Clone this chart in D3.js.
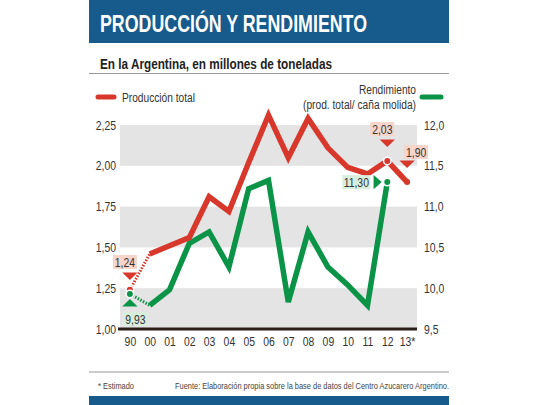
<!DOCTYPE html>
<html>
<head>
<meta charset="utf-8">
<script src="https://cdn.jsdelivr.net/npm/d3@7"></script>
<style>
  body { margin: 0; background: #fff; }
  text { font-family: "Liberation Sans", Arial, sans-serif; }
</style>
</head>
<body>
<div id="chart"></div>
<script>
// Data
var years = ["90", "00", "01", "02", "03", "04", "05", "06", "07", "08", "09", "10", "11", "12", "13*"];
var produccion = [1.24, 1.46, 1.51, 1.56, 1.81, 1.72, 2.02, 2.31, 2.05, 2.29, 2.11, 1.99, 1.95, 2.03, 1.90];
var rendimiento = [9.93, 9.79, 9.98, 10.55, 10.69, 10.26, 11.22, 11.32, 9.83, 10.69, 10.26, 10.04, 9.79, 11.30, null];
var leftTicks = [1.00, 1.25, 1.50, 1.75, 2.00, 2.25];
var rightTicks = [9.5, 10.0, 10.5, 11.0, 11.5, 12.0];

var svgWidth = 540;
var svgHeight = 405;

var red = "#d8372b";
var green = "#0b9447";
var blue = "#165b8b";

var svg = d3.select("#chart")
  .append("svg")
  .attr("width", svgWidth)
  .attr("height", svgHeight);

svg.append("rect")
  .attr("width", svgWidth)
  .attr("height", svgHeight)
  .attr("fill", "#fff");

// squeeze text horizontally to mimic the condensed newspaper font
function condense(sel, factor) {
  sel.each(function() {
    var w = this.getComputedTextLength();
    d3.select(this)
      .attr("textLength", w * factor)
      .attr("lengthAdjust", "spacingAndGlyphs");
  });
}

function fitText(sel, width) {
  sel.attr("textLength", width).attr("lengthAdjust", "spacingAndGlyphs");
}

// Header
svg.append("rect")
  .attr("x", 89).attr("y", 0)
  .attr("width", 360).attr("height", 43)
  .attr("fill", blue);

svg.append("text")
  .attr("x", 100).attr("y", 32)
  .attr("fill", "#fff")
  .attr("font-size", 24)
  .attr("font-weight", "bold")
  .text("PRODUCCIÓN Y RENDIMIENTO")
  .call(fitText, 267);

svg.append("text")
  .attr("x", 100).attr("y", 69)
  .attr("fill", "#222")
  .attr("font-size", 15)
  .attr("font-weight", "bold")
  .text("En la Argentina, en millones de toneladas")
  .call(fitText, 232);

svg.append("line")
  .attr("x1", 89).attr("x2", 449)
  .attr("y1", 73.5).attr("y2", 73.5)
  .attr("stroke", "#999").attr("stroke-width", 1);

// Legend
svg.append("line")
  .attr("x1", 98).attr("x2", 114)
  .attr("y1", 97).attr("y2", 97)
  .attr("stroke", red).attr("stroke-width", 5)
  .attr("stroke-linecap", "round");

svg.append("text")
  .attr("x", 122).attr("y", 101.5)
  .attr("fill", "#333").attr("font-size", 12.5)
  .text("Producción total")
  .call(fitText, 73);

svg.append("text")
  .attr("x", 416).attr("y", 94)
  .attr("text-anchor", "end")
  .attr("fill", "#333").attr("font-size", 12.5)
  .text("Rendimiento")
  .call(fitText, 57);

svg.append("text")
  .attr("x", 416).attr("y", 109)
  .attr("text-anchor", "end")
  .attr("fill", "#333").attr("font-size", 12.5)
  .text("(prod. total/ caña molida)")
  .call(fitText, 113);

svg.append("line")
  .attr("x1", 422).attr("x2", 441)
  .attr("y1", 97).attr("y2", 97)
  .attr("stroke", green).attr("stroke-width", 5)
  .attr("stroke-linecap", "round");

// Scales
var plotLeft = 120, plotRight = 417, plotTop = 125, plotBottom = 329;

var x = d3.scalePoint()
  .domain(years)
  .range([plotLeft, plotRight])
  .padding(0.5);

var yLeft = d3.scaleLinear()
  .domain([1.0, 2.25])
  .range([plotBottom, plotTop]);

var yRight = d3.scaleLinear()
  .domain([9.5, 12.0])
  .range([plotBottom, plotTop]);

// Gray bands
var bands = [[1.0, 1.25], [1.5, 1.75], [2.0, 2.25]];
svg.append("g").selectAll("rect")
  .data(bands)
  .enter()
  .append("rect")
  .attr("x", plotLeft)
  .attr("width", plotRight - plotLeft)
  .attr("y", d => yLeft(d[1]))
  .attr("height", d => yLeft(d[0]) - yLeft(d[1]))
  .attr("fill", "#e4e4e5");

// Axes
var fmt2 = d3.format(".2f");
var fmt1 = d3.format(".1f");

var leftAxis = d3.axisLeft(yLeft)
  .tickValues(leftTicks)
  .tickSize(0)
  .tickPadding(4)
  .tickFormat(d => fmt2(d).replace(".", ","));

var rightAxis = d3.axisRight(yRight)
  .tickValues(rightTicks)
  .tickSize(0)
  .tickPadding(7)
  .tickFormat(d => fmt1(d).replace(".", ","));

var bottomAxis = d3.axisBottom(x)
  .tickSize(0)
  .tickPadding(8);

var gLeft = svg.append("g")
  .attr("transform", `translate(${plotLeft}, 0)`)
  .call(leftAxis);

var gRight = svg.append("g")
  .attr("transform", `translate(${plotRight}, 0)`)
  .call(rightAxis);

var gBottom = svg.append("g")
  .attr("transform", `translate(0, ${plotBottom})`)
  .call(bottomAxis);

[gLeft, gRight, gBottom].forEach(function(g) {
  g.select(".domain").remove();
  g.selectAll("text")
    .attr("font-family", "\"Liberation Sans\", Arial, sans-serif")
    .attr("font-size", 13)
    .attr("fill", "#333")
    .call(condense, 0.8);
});

// Baseline
svg.append("line")
  .attr("x1", plotLeft - 2).attr("x2", plotRight)
  .attr("y1", plotBottom).attr("y2", plotBottom)
  .attr("stroke", "#2b1f17").attr("stroke-width", 3);

// Lines
var prodPoints = years.map((y, i) => ({ year: y, value: produccion[i] }));
var rendPoints = years.map((y, i) => ({ year: y, value: rendimiento[i] }))
  .filter(d => d.value !== null);

var lineLeft = d3.line()
  .x(d => x(d.year))
  .y(d => yLeft(d.value));

var lineRight = d3.line()
  .x(d => x(d.year))
  .y(d => yRight(d.value));

// dotted first segment (1990 -> 2000)
svg.append("path")
  .datum(rendPoints.slice(0, 2))
  .attr("d", lineRight)
  .attr("fill", "none")
  .attr("stroke", green)
  .attr("stroke-width", 3)
  .attr("stroke-dasharray", "1.5,1.5");

svg.append("path")
  .datum(prodPoints.slice(0, 2))
  .attr("d", lineLeft)
  .attr("fill", "none")
  .attr("stroke", red)
  .attr("stroke-width", 3)
  .attr("stroke-dasharray", "1.5,1.5");

svg.append("path")
  .datum(rendPoints.slice(1))
  .attr("d", lineRight)
  .attr("fill", "none")
  .attr("stroke", green)
  .attr("stroke-width", 5.5)
  .attr("stroke-linejoin", "miter");

svg.append("path")
  .datum(prodPoints.slice(1))
  .attr("d", lineLeft)
  .attr("fill", "none")
  .attr("stroke", red)
  .attr("stroke-width", 5.5)
  .attr("stroke-linejoin", "miter");

// Markers
function dot(px, py, color, ring) {
  if (ring) {
    svg.append("circle").attr("cx", px).attr("cy", py).attr("r", 4.5).attr("fill", "#fff");
  }
  svg.append("circle").attr("cx", px).attr("cy", py).attr("r", 3).attr("fill", color);
}

var last = years.length - 1;
dot(x(years[0]), yLeft(produccion[0]), red, true);
dot(x(years[0]), yRight(rendimiento[0]), green, true);
dot(x(years[13]), yLeft(produccion[13]), red, true);
dot(x(years[13]), yRight(rendimiento[13]), green, true);
dot(x(years[last]), yLeft(produccion[last]), red, false);

// Callouts
var triangle = d3.symbol().type(d3.symbolTriangle).size(60);

function callout(label, bx, by, bw, color, fill, tx, ty, rot) {
  svg.append("rect")
    .attr("x", bx).attr("y", by)
    .attr("width", bw).attr("height", 14)
    .attr("fill", fill);
  svg.append("text")
    .attr("x", bx + bw / 2).attr("y", by + 11.5)
    .attr("text-anchor", "middle")
    .attr("font-size", 13)
    .attr("fill", "#333")
    .text(label)
    .call(condense, 0.8);
  svg.append("path")
    .attr("d", triangle())
    .attr("transform", `translate(${tx}, ${ty}) rotate(${rot}) scale(1.3, 0.75)`)
    .attr("fill", color);
}

var fmtVal = d => fmt2(d).replace(".", ",");
var px0 = x(years[0]);
var px12 = x(years[13]);
var px13 = x(years[last]);

callout(fmtVal(produccion[0]), px0 - 17, 255, 24, red, "#f7d5cb",
  px0, 275, 180);
callout(fmtVal(rendimiento[0]), px0 - 7, 312, 25, green, "#d9efdd",
  px0, 304, 0);
callout(fmtVal(produccion[13]), px12 - 17, 122, 24, red, "#f7d5cb",
  px12, 142, 180);
callout(fmtVal(produccion[last]), px13 - 3, 145, 24, red, "#f7d5cb",
  px13, 163, 180);

// 11,30 callout with right-pointing triangle
svg.append("rect")
  .attr("x", px12 - 45).attr("y", yRight(rendimiento[13]) - 7)
  .attr("width", 28).attr("height", 14)
  .attr("fill", "#d9efdd");
svg.append("text")
  .attr("x", px12 - 31).attr("y", yRight(rendimiento[13]) + 4.5)
  .attr("text-anchor", "middle")
  .attr("font-size", 13)
  .attr("fill", "#333")
  .text(fmtVal(rendimiento[13]))
  .call(condense, 0.8);
svg.append("path")
  .attr("d", triangle())
  .attr("transform", `translate(${px12 - 11}, ${yRight(rendimiento[13])}) rotate(90) scale(1.2, 0.8)`)
  .attr("fill", green);

// Footer
svg.append("line")
  .attr("x1", 89).attr("x2", 449)
  .attr("y1", 372).attr("y2", 372)
  .attr("stroke", "#999").attr("stroke-width", 1);

svg.append("text")
  .attr("x", 98).attr("y", 389)
  .attr("font-size", 9.5)
  .attr("fill", "#444")
  .text("* Estimado")
  .call(fitText, 36);

svg.append("text")
  .attr("x", 449).attr("y", 389)
  .attr("text-anchor", "end")
  .attr("font-size", 9.5)
  .attr("fill", "#444")
  .text("Fuente: Elaboración propia sobre la base de datos del Centro Azucarero Argentino.")
  .call(fitText, 274);

svg.append("rect")
  .attr("x", 89).attr("y", 396)
  .attr("width", 360).attr("height", 9)
  .attr("fill", blue);
</script>
</body>
</html>
